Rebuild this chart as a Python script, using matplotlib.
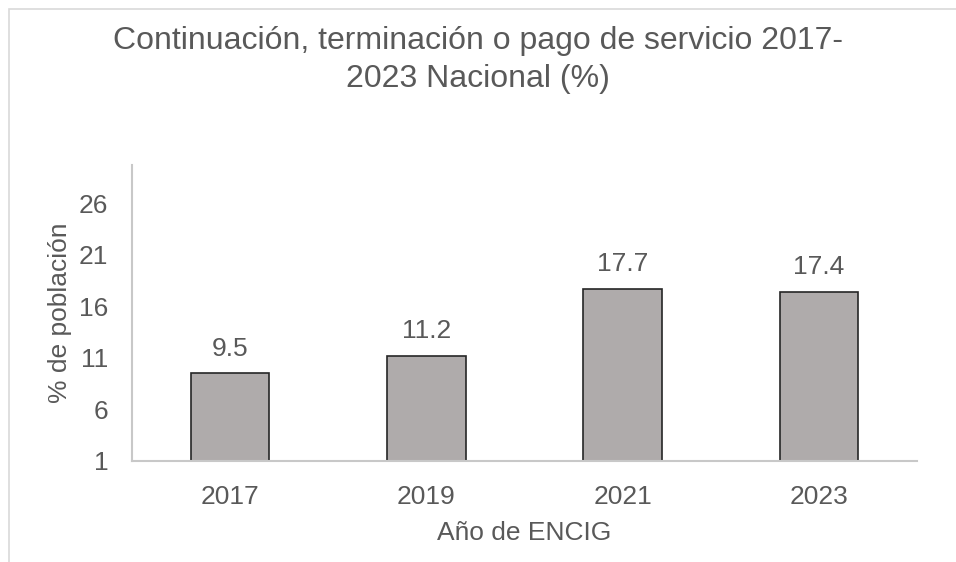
import matplotlib
matplotlib.use('Agg')
import matplotlib.pyplot as plt
from matplotlib.patches import Rectangle

years = ['2017', '2019', '2021', '2023']
values = [9.5, 11.2, 17.7, 17.4]
yticks = [1, 6, 11, 16, 21, 26]

text_color = '#595959'
plt.rcParams['font.family'] = ['Liberation Sans', 'DejaVu Sans']

fig = plt.figure(figsize=(9.56, 5.62), dpi=100)
ax = fig.add_axes([132 / 956, 1 - 461 / 562, (917 - 132) / 956, (461 - 165) / 562])

x = range(len(years))
bars = ax.bar(x, values, width=0.4, bottom=0, color='#AFABAB',
              edgecolor='#262626', linewidth=1.2, zorder=2)
for xi, v in zip(x, values):
    ax.annotate(f'{v}', (xi, v), xytext=(0, 9), textcoords='offset points',
                ha='center', va='bottom', fontsize=19, color=text_color)

ax.set_xlim(-0.5, len(years) - 0.5)
ax.set_ylim(1, 29.7)
ax.set_xticks(list(x))
ax.set_xticklabels(years)
ax.set_yticks(yticks)
ax.tick_params(axis='both', length=0, labelsize=19, labelcolor=text_color)
ax.tick_params(axis='y', pad=17)
ax.tick_params(axis='x', pad=17)

for side in ['top', 'right']:
    ax.spines[side].set_visible(False)
for side in ['left', 'bottom']:
    ax.spines[side].set_color('#C8C8C8')
    ax.spines[side].set_linewidth(1.5)

ax.set_ylabel('% de población', fontsize=19, color=text_color, labelpad=5)
ax.set_xlabel('Año de ENCIG', fontsize=19, color=text_color, labelpad=9)

fig.suptitle('Continuación, terminación o pago de servicio 2017-\n2023 Nacional (%)',
             y=1 - 26 / 562, va='top', fontsize=23, color=text_color, linespacing=1.33)

fig.patches.append(Rectangle((9 / 956, -0.1), 1.2, 1 - 9 / 562 + 0.1, transform=fig.transFigure,
                             fill=False, edgecolor='#D9D9D9', linewidth=1.2))

fig.savefig('out.png', dpi=100)
